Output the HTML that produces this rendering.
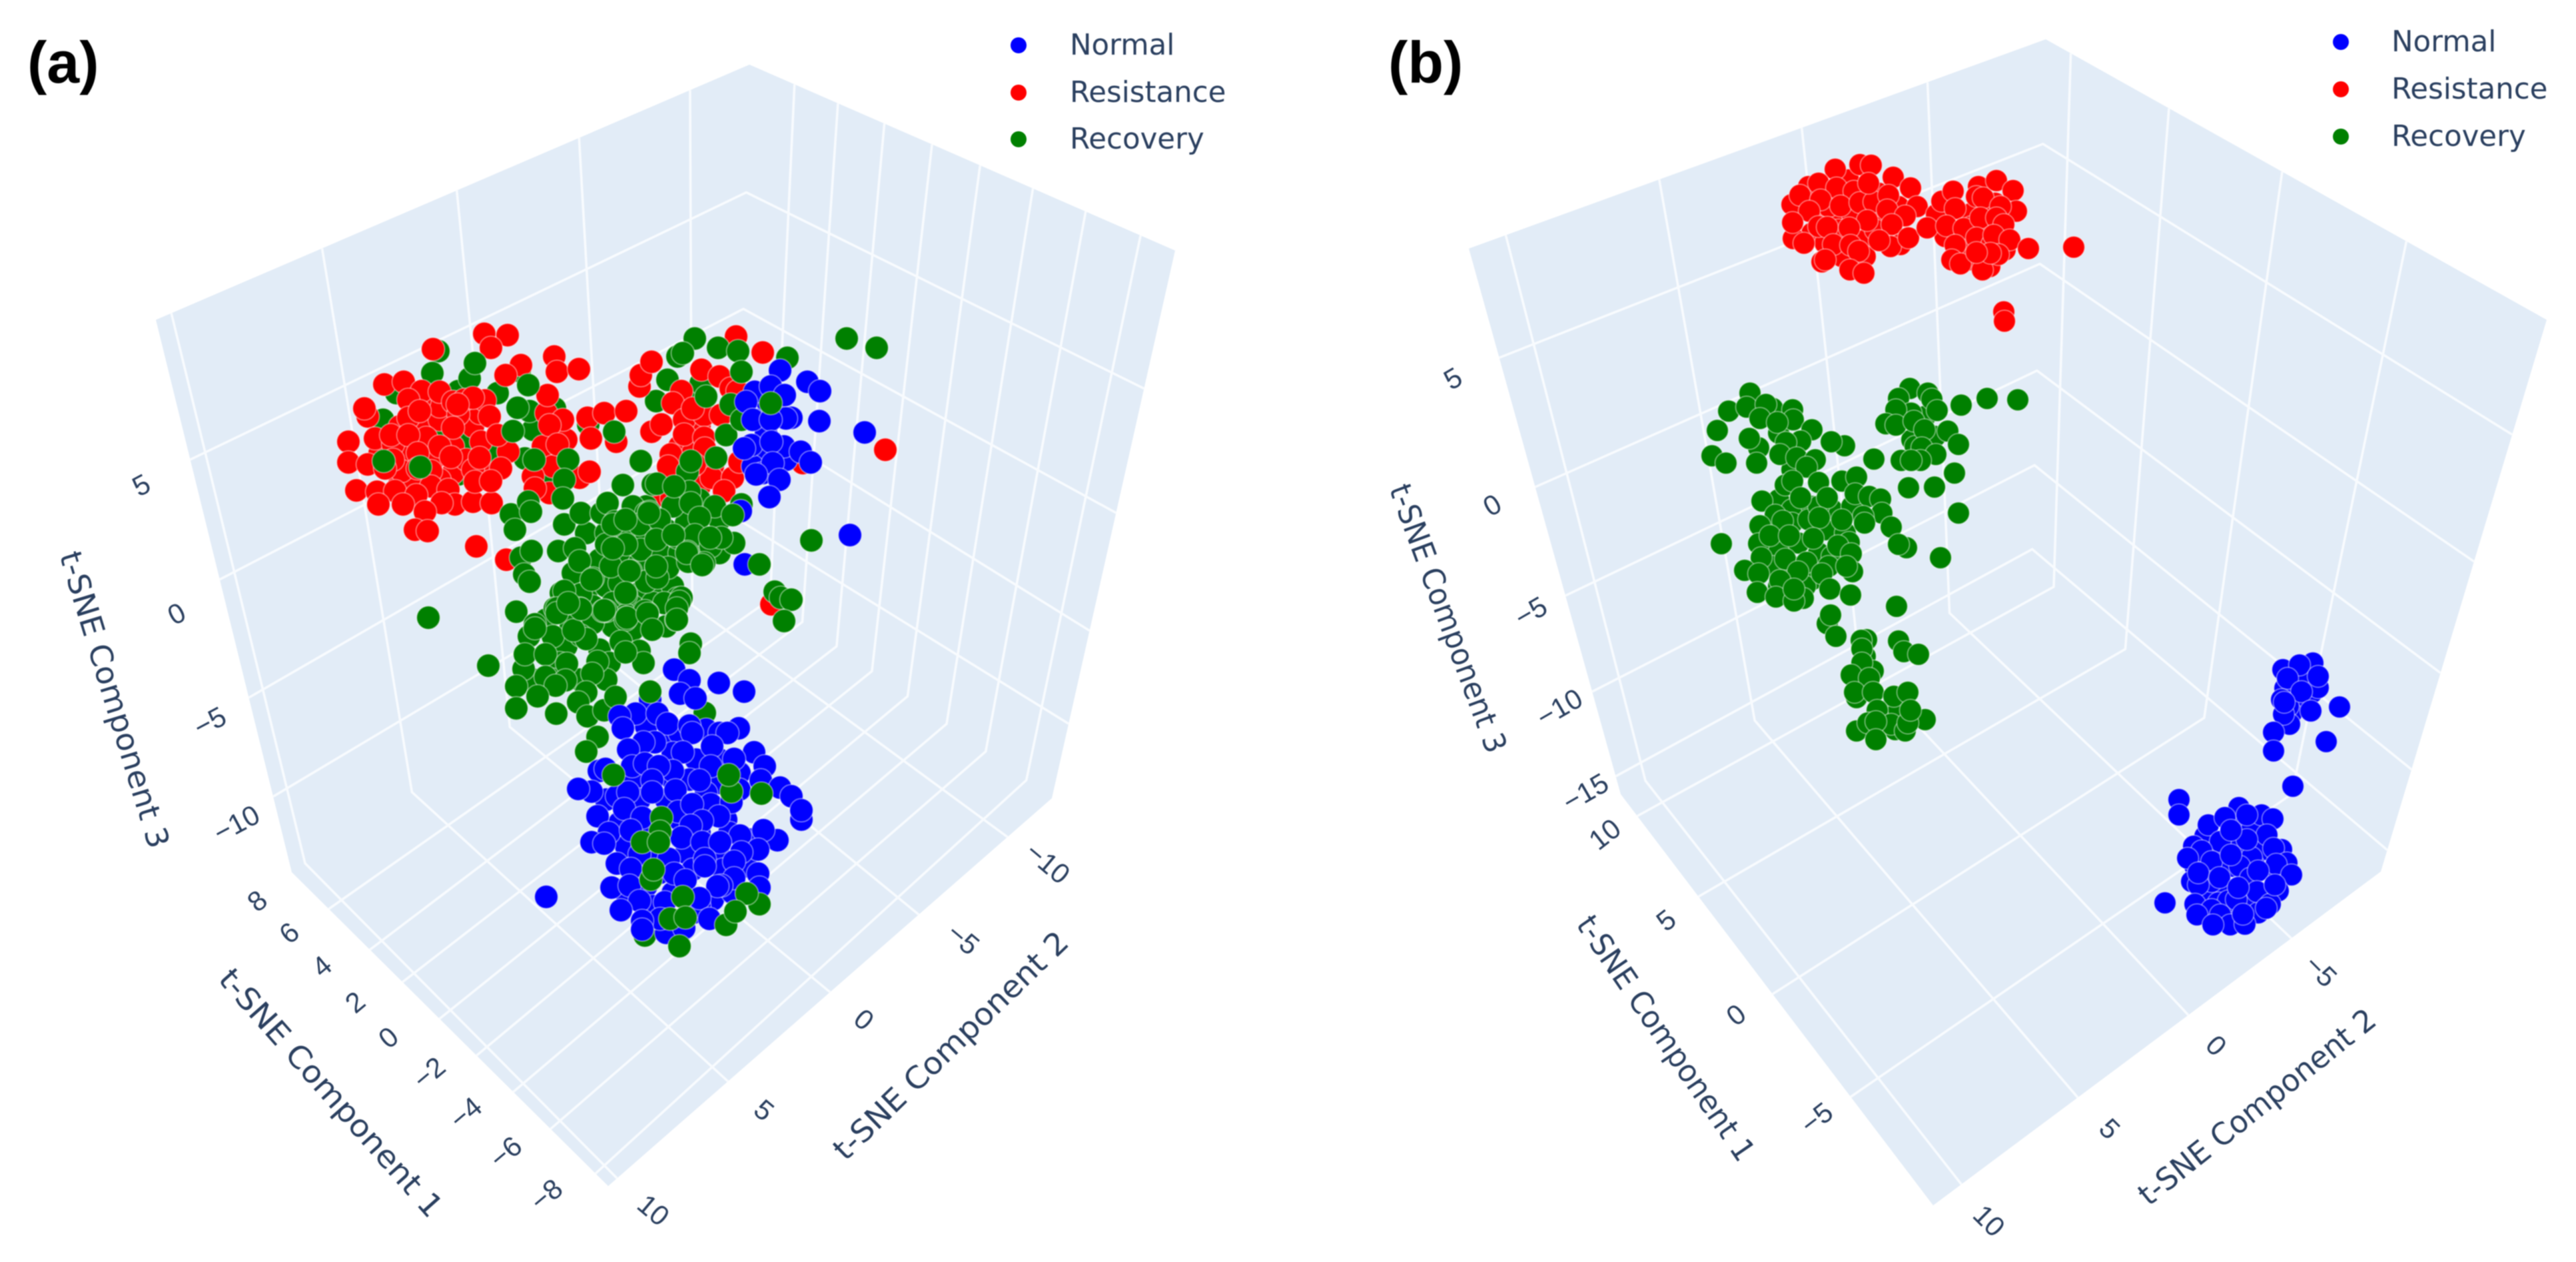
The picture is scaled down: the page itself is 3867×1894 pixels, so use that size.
<!DOCTYPE html>
<html lang="en">
<head>
<meta charset="utf-8">
<title>t-SNE 3D scatter panels</title>
<style>
html,body{margin:0;padding:0;background:#fff;width:3867px;height:1894px;overflow:hidden}
svg{display:block;filter:blur(.7px)}
.tick{font-family:"Liberation Sans",sans-serif;font-size:42px;fill:#2a3f5f;text-anchor:middle;dominant-baseline:central}
.title{font-family:"DejaVu Sans",sans-serif;font-size:46px;fill:#2a3f5f;text-anchor:middle;dominant-baseline:central}
.legend{font-family:"DejaVu Sans",sans-serif;font-size:43.5px;fill:#2a3f5f;dominant-baseline:central}
.panel{font-family:"Liberation Sans",sans-serif;font-size:88px;font-weight:bold;fill:#000}
.wall{fill:#e2ecf7}
.grid{fill:none;stroke:#f8fbfe;stroke-width:3.6;stroke-linejoin:round}
</style>
</head>
<body>
<svg xmlns="http://www.w3.org/2000/svg" width="3867" height="1894" viewBox="0 0 3867 1894">
  <g>
    <polygon class="wall" points="1125,97 1764,376 1579,1198 913,1780 438,1309 234,480"/>
    <g id="gridA"></g>
    <g id="pointsA"></g>
    <text class="panel" x="41" y="124">(a)</text>

    <text class="tick" transform="translate(212,728) rotate(-28)">5</text>
    <text class="tick" transform="translate(265,921) rotate(-28)">0</text>
    <text class="tick" transform="translate(315,1083) rotate(-28)">−5</text>
    <text class="tick" transform="translate(355,1236) rotate(-28)">−10</text>

    <text class="tick" transform="translate(386,1352) rotate(-40)">8</text>
    <text class="tick" transform="translate(434,1400) rotate(-40)">6</text>
    <text class="tick" transform="translate(483,1450) rotate(-40)">4</text>
    <text class="tick" transform="translate(533,1504) rotate(-40)">2</text>
    <text class="tick" transform="translate(583,1557) rotate(-40)">0</text>
    <text class="tick" transform="translate(644,1610) rotate(-40)">−2</text>
    <text class="tick" transform="translate(699,1670) rotate(-40)">−4</text>
    <text class="tick" transform="translate(759,1729) rotate(-40)">−6</text>
    <text class="tick" transform="translate(820,1793) rotate(-40)">−8</text>

    <text class="tick" transform="translate(981,1816) rotate(40)">10</text>
    <text class="tick" transform="translate(1147,1666) rotate(40)">5</text>
    <text class="tick" transform="translate(1297,1530) rotate(40)">0</text>
    <text class="tick" transform="translate(1446,1409) rotate(40)">−5</text>
    <text class="tick" transform="translate(1573,1295) rotate(40)">−10</text>

    <text class="title" transform="translate(172,1050) rotate(73)" textLength="463" lengthAdjust="spacingAndGlyphs">t-SNE Component 3</text>
    <text class="title" transform="translate(497,1640) rotate(48.5)" textLength="480" lengthAdjust="spacingAndGlyphs">t-SNE Component 1</text>
    <text class="title" transform="translate(1427,1569) rotate(-44)" textLength="470" lengthAdjust="spacingAndGlyphs">t-SNE Component 2</text>

    <g>
      <g><circle cx="1529" cy="68" r="12" fill="#0000ff"/><text class="legend" x="1606" y="68">Normal</text></g>
      <g><circle cx="1529" cy="139" r="12" fill="#ff0000"/><text class="legend" x="1606" y="139">Resistance</text></g>
      <g><circle cx="1529" cy="209" r="12" fill="#008000"/><text class="legend" x="1606" y="209">Recovery</text></g>
    </g>
  </g>

  <g>
    <polygon class="wall" points="3071,59 3823,480 3574,1308 2902,1809 2433,1192 2205,373"/>
    <g id="gridB"></g>
    <g id="pointsB"></g>
    <text class="panel" x="2084" y="124">(b)</text>

    <text class="tick" transform="translate(2181,568) rotate(-30)">5</text>
    <text class="tick" transform="translate(2240,758) rotate(-30)">0</text>
    <text class="tick" transform="translate(2298,918) rotate(-30)">−5</text>
    <text class="tick" transform="translate(2341,1062) rotate(-30)">−10</text>
    <text class="tick" transform="translate(2380,1189) rotate(-30)">−15</text>

    <text class="tick" transform="translate(2409,1252) rotate(-38)">10</text>
    <text class="tick" transform="translate(2501,1381) rotate(-38)">5</text>
    <text class="tick" transform="translate(2606,1523) rotate(-38)">0</text>
    <text class="tick" transform="translate(2727,1678) rotate(-38)">−5</text>

    <text class="tick" transform="translate(2986,1832) rotate(45)">10</text>
    <text class="tick" transform="translate(3167,1694) rotate(45)">5</text>
    <text class="tick" transform="translate(3327,1569) rotate(45)">0</text>
    <text class="tick" transform="translate(3484,1457) rotate(45)">−5</text>

    <text class="title" transform="translate(2174,928) rotate(69.7)" textLength="426" lengthAdjust="spacingAndGlyphs">t-SNE Component 3</text>
    <text class="title" transform="translate(2501,1558) rotate(55.6)" textLength="435" lengthAdjust="spacingAndGlyphs">t-SNE Component 1</text>
    <text class="title" transform="translate(3388,1661) rotate(-38.6)" textLength="441" lengthAdjust="spacingAndGlyphs">t-SNE Component 2</text>

    <g>
      <g><circle cx="3514" cy="63" r="12" fill="#0000ff"/><text class="legend" x="3590" y="63">Normal</text></g>
      <g><circle cx="3514" cy="134" r="12" fill="#ff0000"/><text class="legend" x="3590" y="134">Resistance</text></g>
      <g><circle cx="3514" cy="205" r="12" fill="#008000"/><text class="legend" x="3590" y="205">Recovery</text></g>
    </g>
  </g>
</svg>

<script>
// Values are [u, v] coordinates on the projected view plane.
const aRecoveryBack = [[-44.2,37.3],[-45.1,34],[-52.5,27],[-50.5,31],[-41.2,31.3],[-32,34.3],[-35.3,31],[-39.5,33.2],[-43.5,25.8],[-40.2,24],[-36.3,22],[-41.2,18.8],[-26.7,28.7],[-30,25.5],[-30.5,28.3],[-31.2,21.2],[-21.7,26.3],[-27,18.5],[-9.8,33],[-11.5,29.8],[-7.2,30.3],[-4.8,32.5]];

const aResistance = [[-50,26],[-47,26],[-44,27],[-53,22],[-49,22],[-45,21],[-42,23],[-46,17.5],[-42,19],[-50,17.5],[-48,18],[-44,18],[-40,21],[-39,26],[-38,28],[-44,29],[-47,30],[-37,19],[-28,28],[-28.5,23],[-27,20],[-25,24],[-30,18.5],[-5,26],[-8,23],[-6,22],[-3,20],[-5,17],[-37.3,39.9],[-33.8,39.7],[-36.3,37.8],[-45,37.6],[-31.8,35.2],[-26.8,36.5],[-26.4,34.2],[-23.1,34.6],[-34.1,33.7],[-52.3,32.3],[-49.4,32.7],[-46.7,31.3],[-44,31.2],[-27.8,30.7],[-54.8,27.5],[-55.3,28.7],[-42,29.7],[-37.2,29.9],[-48.7,30],[-40.3,30],[-39,30.3],[-48.7,27.3],[-47,28.3],[-41.2,27.8],[-36.5,27.5],[-42,25.8],[-25.5,27],[-27.5,26.2],[-57.7,23.7],[-53.7,24.2],[-46,24.3],[-51,23.3],[-51.3,24.7],[-37.8,23.7],[-26.3,23.3],[-48.7,24.7],[-44,23],[-33.7,22.2],[-42.3,21.4],[-57.7,20.6],[-54.8,20.3],[-49.7,19.3],[-39,19.5],[-34.8,19.7],[-45.3,19.3],[-47.3,22],[-38,21.3],[-51,21],[-52.2,19.7],[-47.3,19.7],[-45.3,17],[-56.5,16.4],[-53.4,16.2],[-50.7,16.3],[-42.7,16.5],[-47.5,15.7],[-53.2,14.3],[-49.5,14.3],[-41.7,14.3],[-43.7,14.5],[-39,14.7],[-36.2,14.5],[-46.2,13.2],[-47.7,10.5],[-45.8,10.3],[-38.5,8],[-34,6],[-23,18.3],[-21.5,19.2],[-38.7,17.7],[-36.3,17.8],[-27.5,16],[-29.7,16.7],[-41.3,29.3],[-35.3,24.7],[-21.8,27.3],[-19.3,28],[-16,28.3],[-17.5,23.7],[-21.3,24.2],[-14,32],[-13.8,33.7],[-12.2,35.7],[-12.2,25.2],[0.5,39.5],[4.5,37.1],[-4.7,34.5],[-2,33.5],[-0.3,31.7],[-7.7,31.3],[-9,29.5],[-10.7,26.3],[-7.3,27],[-4.3,27.7],[-1.8,27.7],[-6,28.7],[-7.3,24.8],[-4.3,24.3],[-9.3,21.8],[-9.7,20],[-3.2,18.3],[0,18.3],[-1.3,16.3],[1,20.7],[22.9,22.5],[10.5,20.5],[-10.8,15.7],[-9.2,15.2],[-4.2,22.7],[-5.7,20.3],[5.8,-0.7],[0.7,31.3]];

const aRecoveryMid = [[-22,10],[-19,10],[-16,10.5],[-13,10],[-10,10.5],[-7,11.5],[-24,4],[-20,6],[-17,6],[-14,5.5],[-11,7],[-8,7],[-5,7.5],[-2,7],[-22,1],[-19,2],[-17,2.5],[-14,1],[-11,1],[-9,2],[-24,-3],[-21,-1],[-18,-0.5],[-15,-1],[-12,-0.5],[-18,-4],[-15,-4.5],[-10,-4],[-25,-7],[-20,-7.5],[-18.5,-9.5],[-26,-9.5],[-23,-12],[-19,-12],[-13,14],[-9,14],[-5,15],[-15,14],[-2,12],[-21,-3.5],[-27,-12],[-30,-12],[-28,-3],[-38.7,35.5],[-30.7,32.2],[-32.3,28.8],[-33,25.3],[-52.4,20.8],[-46.9,19.9],[-29.8,21],[-24.7,21],[-25.3,18],[-25.5,15.2],[-17.8,25.2],[-33.3,12.8],[-30.7,14.7],[-30.3,13.2],[-32.7,10.5],[-25.3,11.3],[-22.8,13],[-19.7,13],[-18.8,14.5],[-13.8,20.8],[-16.5,17.2],[-31.8,6.3],[-30.2,7.3],[-31.3,3.8],[-30.5,2.7],[-32.5,-1.8],[-45.7,-2.7],[-26.2,7.3],[-23.7,7.7],[-23,5.8],[-21,3.2],[-25.8,1],[-22.8,0.8],[-26.7,-1.3],[-19.3,-1.7],[-16,0.7],[-15.3,4.3],[-13.8,7.5],[-19,8.3],[-16,8.3],[-13,13],[-14,11.3],[-17.7,11.7],[-12,17.3],[-16,-2.3],[-23,-1.3],[-29.7,-3.7],[-24.3,-4],[-11.4,17.4],[-12.5,13.2],[-6.8,19.2],[-6.3,20.8],[-6.5,16.2],[-6.3,14.5],[-2.5,21.3],[-1,24.7],[-2.7,14],[1.3,14.3],[-8.8,17],[-11,12],[-5,12.3],[-8.3,9.3],[-5.7,9.7],[-3.3,8],[0.2,8.5],[-1.7,9.3],[-6.8,7.2],[-4.3,5.5],[-11.5,9],[-11.5,4.8],[-9.7,4.8],[-18.3,5],[-18,7.7],[-18,11.3],[-13,2.7],[-11.3,3.3],[-8.3,0.2],[-10.3,-0.5],[-7.7,0.3],[-12.8,-2],[-16,-2.7],[-8.5,-3],[-19,-1.7],[-6.7,5.7],[-16.1,12],[-12.6,13],[-8.9,9.7],[-3.4,9.3],[-6.9,7],[-11.5,5],[-15.5,4.3],[-4.6,5.2],[-21.2,3],[-16.1,1],[-25.3,1.3],[-19.5,-1.7],[-26.4,-1.3],[-8,-0.3],[-16.1,-3],[-13.2,-1.7],[11.8,8.9],[17.1,39.2],[21.6,37.8],[6.3,1.2],[7.2,0.3],[8.8,0],[7.7,-3.2],[-5.7,39.2],[-2.2,37.8],[-8.3,36.5],[-7.5,37],[0.8,37.3],[1.3,34.2],[8.2,36.3],[-0.3,29.3],[1.3,27],[-4,30.5],[-26.4,-2],[-19.3,-1.6],[-15.9,-2.7],[-12.8,-2.1],[-8.4,-1.3],[-8.4,-3],[-12.1,-4.5],[-6.3,-6.6],[-6.5,-8],[-30.6,-5.5],[-27,-5.5],[-22.8,-5.4],[-22,-5.9],[-29.7,-4.3],[-16.8,-6.3],[-14,-7.7],[-13.4,-9.5],[-16.1,-7.9],[-31.4,-10.4],[-31.2,-8.2],[-28.1,-8.2],[-24.9,-9.6],[-20.3,-9.3],[-21.1,-11.1],[-36.7,-9.9],[-32.5,-13],[-28.1,-11.6],[-25.1,-12.1],[-26.6,-12.9],[-22,-13.9],[-29.3,-14.5],[-32.5,-16.3],[-26.5,-17.1],[-23.2,-15.4],[-21.8,-17.5],[-19.3,-16.6],[-20.3,-20.6],[-22,-22.8],[-17.6,-14.6],[-4.2,-17],[-23.9,-4.6],[-22.8,-1.4],[-24.7,-0.5],[-13.2,-50.4]];

const aNormal = [[10.3,-33],[4,27],[5,30],[5,25],[4,22],[8,21],[3,20],[6,29],[4.5,19],[-13,-19],[-10,-21],[-8,-20],[-4,-19.5],[-2,-20],[-14,-24],[-9,-23],[-5.5,-24],[-2,-24],[1,-26],[-15,-27],[-9,-27],[-6.5,-27],[-2,-27.5],[1,-28.5],[-19,-30],[-14,-30],[-10,-30],[-4,-29],[-1,-33],[-17,-33.5],[-12,-34],[-8,-33],[-5,-35],[-0.5,-35],[2.5,-36],[-12,-38],[-7,-38],[-2,-38.5],[2,-40],[-16,-37],[-11,-41],[-6,-40.5],[-13,-43],[-9,-44],[-3,-45],[0,-44],[-16,-44],[-12,-46],[-6,-47],[-10,-50],[-5,-46],[-1.5,-40.5],[7.1,34.4],[11.2,32.7],[13.1,31.3],[3.3,31.2],[5.7,32],[7.8,30.7],[2,29.7],[3,27],[8.8,27.3],[8,27.2],[13,26.8],[5.7,27],[2.8,23.2],[1.7,22.7],[7.7,23],[5.8,23.7],[10.2,22.2],[11.7,20.6],[6,20.5],[7,18],[3.5,18.8],[5.5,15.4],[19.8,25.1],[17.6,9.7],[1.8,5.3],[1.2,13.3],[-28,-44.6],[-8.8,-10.5],[-6.5,-12.1],[-2.1,-12.5],[1.7,-13.8],[-7.9,-14.1],[-5.6,-14.8],[-12.4,-15],[-14.6,-17.1],[-17,-17.5],[-11.3,-17.1],[-16.5,-19.3],[-9.8,-18.6],[-6.5,-18.9],[0.9,-19.3],[-0.8,-20],[-6.1,-20],[-11.7,-21.4],[-13.4,-21.4],[-15.7,-22.5],[-7.5,-22.9],[-3.1,-22],[3.2,-22.9],[0.2,-23.9],[4.8,-25],[-20.1,-25.7],[-19.1,-25.4],[-15.1,-25],[-13.2,-24.6],[-9,-25.7],[-11.1,-25],[-12.1,-27.1],[-3.3,-25],[-5,-27.1],[4.2,-27.1],[7.1,-28.2],[8.8,-29.5],[10.3,-31.6],[-21.2,-28.8],[-23.2,-28.4],[-17.4,-29.5],[-15.7,-28.9],[-12.1,-28.9],[-8.6,-28.6],[-16.3,-31.4],[-8.2,-31.8],[-3.3,-30.7],[-6.1,-30.7],[-0.2,-30.4],[-20.3,-32.5],[-13.6,-32.7],[-2.1,-32.5],[-4.6,-33.2],[-6.3,-33.9],[-18.6,-35],[-15.3,-34.6],[1.1,-35.4],[6.7,-36.1],[4.6,-34.6],[-21.2,-36.4],[-19.3,-36.6],[-7.7,-35.7],[-4.6,-36.4],[-1.9,-36.4],[3.8,-37.5],[-14,-38.2],[1.3,-37.9],[-9.6,-38.9],[-4.2,-38.9],[0.2,-39.3],[-17.4,-39.6],[-15.3,-40.4],[-4.2,-40],[-8.8,-41.1],[3.8,-41.1],[0.2,-41.8],[-7.1,-42.1],[-1.7,-42.9],[-2.3,-43],[4,-43.2],[-18.2,-43.2],[-15.5,-42.9],[-14,-45.2],[-10.2,-45.4],[-5,-44.8],[-16.8,-46.6],[-10.9,-47.9],[-3.5,-47.9],[-7.3,-49.3],[-13.6,-48.2],[-13.6,-49.5]];

const aRecoveryTop = [[5.7,29.5],[0,12.7],[4,5.3],[-12.4,-13.8],[-17.9,-26.3],[-0.2,-28.8],[-0.6,-26.3],[4.3,-29.1],[-10.7,-32.7],[-10.9,-34.8],[-13.6,-36.4],[-11.1,-36.4],[-12.3,-42],[-11.9,-40.5],[-7.5,-44.6],[4,-45.7],[2.1,-44.1],[-1,-48.8],[0.4,-46.8],[-9.4,-47.9],[-7.1,-47.7],[-8,-52]];

const bResistance = [[-27,43],[-25,42.5],[-22,43],[-19,43],[-17.5,41],[-24,40.5],[-28,40],[-26,38.5],[-23.5,36.5],[-20,39],[-18.5,40.5],[-20,36.5],[-15,44],[-18,46],[-22.5,48],[-25.5,44],[-4,43],[-4,41],[-2,40.5],[-0.5,44.5],[-5,38],[-2.5,36],[0,38.5],[-8,39.5],[-3,47],[1,37.5],[-4.5,36],[-24.5,49.6],[-20.8,50.3],[-19.1,50.2],[-30.8,39.2],[-28.5,47],[-27,47.5],[-31,44.3],[-29.8,45.7],[-24.3,46.8],[-21.7,46.3],[-26.7,45],[-28.4,43.3],[-23.7,44.1],[-20.8,44.6],[-18.7,44.7],[-19.5,47.5],[-15.8,48.4],[-13.2,46.8],[-16.5,45.7],[-12.2,44],[-16.7,43.5],[-14,42.6],[-19.7,41.9],[-30.9,41.6],[-27,41],[-25.7,40.9],[-22.4,40.8],[-16,41.3],[-14.7,38.3],[-16.2,38],[-13.5,39.3],[-17.9,38.9],[-29.2,38.5],[-24.8,38.3],[-22.2,38.2],[-21,37.3],[-26.5,35.7],[-26,36],[-22.3,34.5],[-20.2,34],[-9.3,42.8],[-8.5,44.8],[-6.8,46.3],[-10.7,40.8],[-6.5,43.7],[-7.8,41.1],[-5.2,40.7],[-3.3,45.5],[-2.3,45.3],[-2.7,42.3],[-0.3,47.9],[2.2,46.4],[2.7,43.3],[0.3,44],[-0.3,42.3],[0.8,41.3],[-3.3,39.3],[-1,38.3],[-0.7,39.7],[1.7,39],[-6.5,38.2],[-7,36],[-5.7,35.4],[-1.3,35],[-2.4,34.5],[0,36.8],[-1.2,37],[-3.3,37.1],[4.5,37.7],[11.3,37.9],[0.8,28.2],[0.9,26.8]];

const bRecovery = [[-33,0],[-31,-1.5],[-28,-1],[-25,-1.5],[-22,-1],[-34,-4],[-31,-3.5],[-28.5,-3],[-26,-4.5],[-23,-5],[-35,-7],[-33,-7.5],[-30,-6.5],[-27,-8],[-25,-8.5],[-34,-10],[-31,-10],[-28,-12],[-25.5,-10],[-33,-13],[-29,-13],[-27,-1],[-31,4.5],[-33,10],[-34,13],[-13,9],[-11,12.5],[-9.5,9.5],[-12.5,8],[-20,-27.5],[-20,-23.5],[-17,-32],[-15.5,-34.5],[-15,-31.5],[-37.3,16],[-40.5,13.3],[-37.8,13.9],[-33.9,13.7],[-34.9,14.3],[-35.8,12.2],[-42.2,10.4],[-36,7.8],[-37.4,9.2],[-30.9,13.5],[-30.8,12],[-28,10.5],[-33.2,11.6],[-29.7,8.8],[-31.9,8.6],[-32.8,6.8],[-43,6.6],[-40.9,5.5],[-36.3,5.5],[-23.1,8.1],[-25.1,8.7],[-30.3,6.3],[-27.5,6],[-28.8,4.9],[-32,2.2],[-30.9,2.8],[-27,2.6],[-35.5,-0.2],[-29.7,0.3],[-25.7,0.3],[-23.5,2.8],[-21.3,3.4],[-21.5,0.9],[-19.4,0.5],[-17.7,0.1],[-17.5,-2],[-16.1,-4.1],[-13.8,-7.2],[-15,-6.7],[-8.7,-8.7],[-20.3,-2.5],[-20.1,-3.5],[-23.5,-3],[-26.9,-2.7],[-33.5,-2.3],[-32.4,-3.2],[-35.8,-3.9],[-41.6,-6.6],[-36,-6.6],[-35.6,-8.7],[-34.3,-5.4],[-31.4,-5.4],[-27.8,-5.8],[-22.4,-6.4],[-24.1,-6.9],[-22.1,-8.1],[-32,-8.9],[-28.8,-9.4],[-38.1,-10.6],[-36,-11.1],[-30.1,-10.8],[-26.5,-11.1],[-21.9,-10.8],[-22.8,-10],[-32.8,-12.1],[-25.3,-13.4],[-22.2,-14.3],[-36.2,-13.9],[-33.4,-14.6],[-29.3,-14.8],[-30.7,-15.2],[-30.7,-13.4],[-25.7,-18.6],[-25.2,-17.3],[-24.4,-20.5],[-15.3,-16],[-19.8,-21],[-20.6,-21.1],[-15,-21.2],[-14.2,-22.8],[-12,-23.2],[-20.5,-22.4],[-18.8,-25.7],[-20.5,-24.5],[-22.1,-26.3],[-19.4,-26.8],[-21.3,-29.7],[-21.6,-28.9],[-18.8,-28.9],[-15.7,-29.5],[-13.6,-28.9],[-18.2,-31.6],[-11,-33],[-21.3,-34.7],[-19.6,-33.5],[-16.1,-33.7],[-14,-34.7],[-13.6,-33.5],[-13.2,-31.6],[-18.4,-33.3],[-18.4,-36],[-13.3,16.7],[-10.6,16],[-15,15.2],[-10,15.1],[-9.2,13.4],[-5.6,14.2],[-1.7,15.2],[2.9,15],[-13.1,13],[-15.4,13.5],[-16.9,11.4],[-15.4,11.2],[-12.7,11.8],[-11.1,10.5],[-7.6,10.3],[-6,8.3],[-11.5,7.8],[-9.4,6.8],[-14.6,5.9],[-11.7,5.9],[-13.1,5.9],[-6.6,4],[-13.5,1.8],[-9.6,1.9],[-6,-2],[-18.7,6.1]];

const bNormal = [[31,-50.5],[35,-50.5],[39,-50],[32,-53],[36,-52.5],[40,-52.5],[31,-55.5],[35,-55],[38.5,-55],[42,-56.5],[30.5,-59],[34,-58.5],[37.5,-58],[40.5,-59],[31.5,-60],[35,-62],[38,-60],[33,-60.5],[39,-62],[43,-55.5],[42.5,-52.5],[29.5,-55],[36.5,-49],[38,-49.5],[44.5,-27],[46.5,-26],[44,-29.5],[45,-31],[44,-32],[43.5,-31],[47,-29],[46.5,-27],[42.7,-25.5],[47.2,-24.5],[45.2,-24.8],[43,-28.3],[48,-28.2],[43.4,-26.8],[48,-26.5],[45.5,-28.8],[42.5,-30],[43.7,-33.7],[42.8,-32.2],[42.9,-30.4],[46.9,-31.7],[51.2,-31.1],[41.3,-34.9],[41.3,-37.7],[49.2,-36.3],[44.2,-43],[27.1,-45],[27.1,-47.3],[36.1,-46.2],[39.5,-47.3],[41.2,-47.9],[31.5,-48.8],[34,-47.7],[40.3,-50.3],[33.3,-51.3],[29.3,-52],[41.3,-52.3],[30.5,-52.7],[28.4,-53.8],[38,-53.7],[32,-54.3],[43.3,-54.5],[41.7,-54.7],[44,-56.3],[36.2,-55],[37.8,-56.8],[29,-57.3],[32,-57.3],[30,-57.8],[39,-55.7],[42,-58.7],[38.8,-58.8],[29.5,-60.7],[34.5,-60.2],[35.7,-60],[40.8,-60.7],[32,-61.5],[40.2,-61.3],[29.8,-62.3],[33.3,-62.3],[34.8,-63.8],[37,-63.7],[25,-60.5],[37.3,-51],[34.9,-49.6],[37.3,-47.3],[34.9,-53.3],[30,-56],[33.2,-56.7],[36,-58.2],[41.5,-57.8],[36.7,-62.2],[32.2,-63.8]];

function aX(u) { return 1100 + 10 * u; }
function aY(v) { return 900 - 10 * v; }
function bX(u) { return 3000 + 10 * u; }
function bY(v) { return 750 - 10 * v; }

const SVGNS = 'http://www.w3.org/2000/svg';

function drawSeries(group, values, color, xFn, yFn, radius, seriesName) {
  values.forEach(function (p) {
    const c = document.createElementNS(SVGNS, 'circle');
    c.setAttribute('cx', xFn(p[0]));
    c.setAttribute('cy', yFn(p[1]));
    c.setAttribute('r', radius);
    c.setAttribute('fill', color);
    c.setAttribute('stroke', 'rgba(255,255,255,0.4)');
    c.setAttribute('stroke-width', 2);
    
    
    group.appendChild(c);
  });
}

const BLUE = '#0000ff', RED = '#ff0000', GREEN = '#008000';
const ga = document.getElementById('pointsA');
drawSeries(ga, aRecoveryBack, GREEN, aX, aY, 17.5, 'point-recovery');
drawSeries(ga, aResistance, RED, aX, aY, 17.5, 'point-resistance');
drawSeries(ga, aRecoveryMid, GREEN, aX, aY, 17.5, 'point-recovery');
drawSeries(ga, aNormal, BLUE, aX, aY, 17.5, 'point-normal');
drawSeries(ga, aRecoveryTop, GREEN, aX, aY, 17.5, 'point-recovery');

const gb = document.getElementById('pointsB');
drawSeries(gb, bResistance, RED, bX, bY, 16.5, 'point-resistance');
drawSeries(gb, bRecovery, GREEN, bX, bY, 16.5, 'point-recovery');
drawSeries(gb, bNormal, BLUE, bX, bY, 16.5, 'point-normal');

// Scene frame: wall and floor corners with gridline fractions along each edge.
function lerp(p, q, t) { return [p[0] + (q[0] - p[0]) * t, p[1] + (q[1] - p[1]) * t]; }

function drawGrid(group, s) {
  function addLine(points, lineName) {
    const l = document.createElementNS(SVGNS, 'polyline');
    l.setAttribute('class', 'grid');
    l.setAttribute('points', points.map(function (p) { return p[0].toFixed(1) + ',' + p[1].toFixed(1); }).join(' '));
    
    
    group.appendChild(l);
  }
  s.c1Top.forEach(function (f, i) {
    addLine([lerp(s.apex, s.right, f), lerp(s.B, s.R, s.c1Bottom[i]), lerp(s.L, s.F, s.c1Front[i])], 'gridline-component-1');
  });
  s.c2Top.forEach(function (f, i) {
    addLine([lerp(s.apex, s.left, f), lerp(s.B, s.L, s.c2Bottom[i]), lerp(s.R, s.F, s.c2Front[i])], 'gridline-component-2');
  });
  s.zBack.forEach(function (f, i) {
    addLine([lerp(s.left, s.L, s.zLeft[i]), lerp(s.apex, s.B, f), lerp(s.right, s.R, s.zRight[i])], 'gridline-component-3');
  });
}

drawGrid(document.getElementById('gridA'), {
  apex: [1125, 97], left: [234, 480], right: [1764, 376],
  B: [1106, 864], L: [438, 1309], R: [1579, 1198], F: [913, 1780],
  c1Top: [.106, .208, .317, .429, .542, .666, .79, .919],
  c1Bottom: [.106, .208, .317, .429, .542, .666, .79, .919],
  c1Front: [.117, .247, .35, .467, .584, .70, .818, .96],
  c2Top: [.1, .287, .493, .72, .974],
  c2Bottom: [.1, .287, .51, .73, .97],
  c2Front: [.1, .3, .5, .73, .98],
  zBack: [.25, .478, .684, .89],
  zLeft: [.253, .47, .684, .863],
  zRight: [.252, .479, .694, .864]
});

drawGrid(document.getElementById('gridB'), {
  apex: [3071, 59], left: [2205, 373], right: [3823, 480],
  B: [3050, 852], L: [2433, 1192], R: [3574, 1308], F: [2902, 1809],
  c1Top: [.05, .246, .472, .72],
  c1Bottom: [.063, .268, .494, .745],
  c1Front: [.053, .249, .486, .736],
  c2Top: [.205, .423, .67, .936],
  c2Bottom: [.2, .42, .674, .94],
  c2Front: [.2, .43, .677, .937],
  zBack: [.198, .425, .627, .806, .965],
  zLeft: [.2, .437, .636, .812, .967],
  zRight: [.208, .438, .64, .815, .961]
});
</script>
</body>
</html>
